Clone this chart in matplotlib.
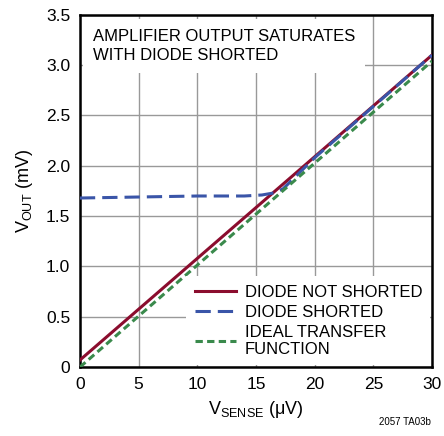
import numpy as np
import matplotlib
matplotlib.use("Agg")
import matplotlib.pyplot as plt

plt.rcParams['font.family'] = ['Liberation Sans Narrow', 'Liberation Sans', 'DejaVu Sans']
plt.rcParams['mathtext.default'] = 'regular'

# data
x_not = [0, 30]
y_not = [0.07, 3.10]

x_short = [0, 5, 10, 14, 15.5, 16.5, 17.3, 20, 25, 30]
y_short = [1.68, 1.69, 1.70, 1.70, 1.71, 1.73, 1.77, 2.08, 2.59, 3.10]

x_ideal = [0, 30]
y_ideal = [0.0, 3.04]

fig = plt.figure(figsize=(4.44, 4.36), dpi=100)
ax = fig.add_axes([0.180, 0.158, 0.793, 0.808])

ax.plot(x_not, y_not, color='#8b0d2e', lw=2.2, label='DIODE NOT SHORTED', zorder=3)
ax.plot(x_short, y_short, color='#3a55a8', lw=2.2, dashes=(5, 2.3), label='DIODE SHORTED', zorder=4)
ax.plot(x_ideal, y_ideal, color='#3a8a4c', lw=2.2, dashes=(2.4, 1.4), label='IDEAL TRANSFER\nFUNCTION', zorder=5)

ax.set_xlim(0, 30)
ax.set_ylim(0, 3.5)
ax.set_xticks(np.arange(0, 31, 5))
ax.set_yticks(np.arange(0, 3.51, 0.5))
ax.set_yticklabels(['0'] + [f'{v:.1f}' for v in np.arange(0.5, 3.51, 0.5)])
ax.grid(True, color='#999999', lw=1.0)
ax.tick_params(length=0, labelsize=12.5, pad=7)
for s in ax.spines.values():
    s.set_linewidth(1.8)

ax.set_xlabel('V$_{SENSE}$ (μV)', fontsize=13, labelpad=5)
ax.set_ylabel('V$_{OUT}$ (mV)', fontsize=13, labelpad=8)

ax.text(1.1, 3.36, 'AMPLIFIER OUTPUT SATURATES\nWITH DIODE SHORTED', fontsize=12,
        va='top', ha='left', linespacing=1.35,
        bbox=dict(facecolor='white', edgecolor='none', pad=7), zorder=6)

leg = ax.legend(loc='lower right', frameon=True, fontsize=12, handlelength=2.5,
                handletextpad=0.5, borderaxespad=0.1, labelspacing=0.3,
                borderpad=0.5, fancybox=False)
leg.get_frame().set_edgecolor('none')
leg.get_frame().set_alpha(1)

fig.text(0.97, 0.02, '2057 TA03b', fontsize=7, ha='right', va='bottom')

fig.savefig('out.png', dpi=100)
